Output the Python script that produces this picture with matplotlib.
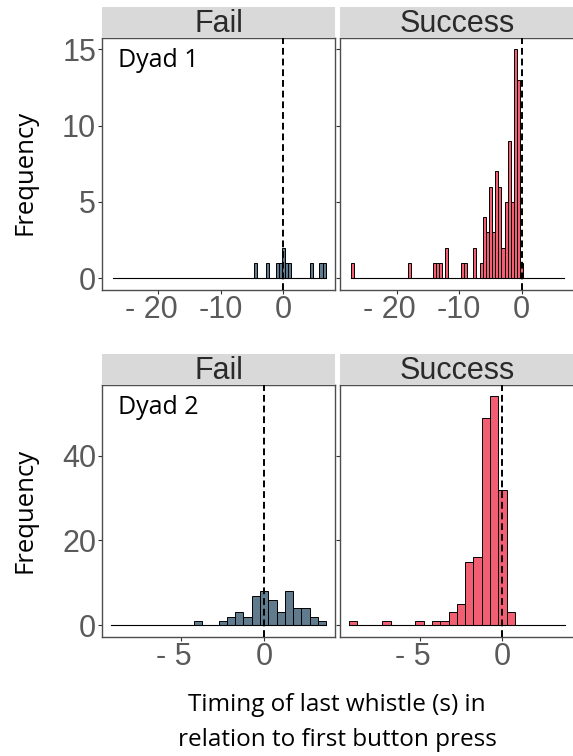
import numpy as np
import matplotlib
matplotlib.use("Agg")
import matplotlib.pyplot as plt
import matplotlib.transforms as mtrans

# bin width of the histograms (s)
bin_width = 0.5

# Dyad 1: bins run from -27.25 to 6.75
d1_range = [-27.25, 6.75]
d1_fail_x = [-4.5, -2.5, -1, -0.5, 0, 0.5, 1, 4.5, 6, 6.5]
d1_fail_n = [1, 1, 1, 1, 2, 1, 1, 1, 1, 1]
d1_succ_x = [-27, -18, -14, -13.5, -13, -12, -9.5, -9, -7.5, -6.5, -6, -5.5,
             -5, -4.5, -4, -3.5, -3, -2.5, -2, -1.5, -1, -0.5, 0]
d1_succ_n = [1, 1, 1, 1, 1, 2, 1, 1, 2, 1, 4, 3, 6, 3, 7, 6, 2, 5, 9, 5, 15, 13, 1]

# Dyad 2: bins run from -9.25 to 3.75
d2_range = [-9.25, 3.75]
d2_fail_x = [-4, -2.5, -2, -1.5, -1, -0.5, 0, 0.5, 1, 1.5, 2, 2.5, 3, 3.5]
d2_fail_n = [1, 1, 2, 3, 2, 7, 8, 6, 3, 8, 4, 4, 2, 1]
d2_succ_x = [-9, -7, -5, -4, -3.5, -3, -2.5, -2, -1.5, -1, -0.5, 0, 0.5]
d2_succ_n = [1, 1, 1, 1, 1, 3, 5, 15, 16, 49, 54, 32, 3]

d1_xticks = [-20, -10, 0]
d1_xlabels = ["- 20", "-10", "0"]
d1_yticks = [0, 5, 10, 15]
d2_xticks = [-5, 0]
d2_xlabels = ["- 5", "0"]
d2_yticks = [0, 20, 40]

fail_col = "#5F7B8D"
succ_col = "#F25F72"
W, H = 573, 756
tick_font = "Liberation Sans"

fig = plt.figure(figsize=(W / 100, H / 100), dpi=100)


def px_axes(x0, y0, x1, y1):
    return fig.add_axes([x0 / W, 1 - y1 / H, (x1 - x0) / W, (y1 - y0) / H])


def panel(x0, y0, y1, title, xs, ns, rng, col, xlim, ylim, xt, xl, yt, show_y):
    ax = px_axes(x0, y0, x0 + 233.7, y1)
    ax.bar(xs, ns, width=bin_width, color=col, edgecolor="black", linewidth=0.7, zorder=2)
    ax.plot(rng, [0, 0], color="black", lw=0.8, zorder=2)
    ax.axvline(0, color="black", lw=1.4, ls=(0, (3.5, 2)), zorder=3)
    ax.set_xlim(xlim)
    ax.set_ylim(ylim)
    ax.set_xticks(xt)
    ax.set_xticklabels(xl)
    ax.set_yticks(yt)
    if not show_y:
        ax.set_yticklabels([])
        ax.tick_params(axis="y", length=0)
    for s in ax.spines.values():
        s.set_color("#4D4D4D")
        s.set_linewidth(1.0)
    ax.tick_params(length=3, width=0.8, color="#333333", labelsize=22,
                   labelcolor="#5a5a5a", pad=1.0)
    for lab in ax.get_xticklabels() + ax.get_yticklabels():
        lab.set_fontfamily(tick_font)
    # labels written as "- n" sit a little left of their ticks
    shift = mtrans.ScaledTranslation(-7 / 100, 0, fig.dpi_scale_trans)
    for lab in ax.get_xticklabels():
        if lab.get_text().startswith("- "):
            lab.set_transform(lab.get_transform() + shift)
    # strip
    st = px_axes(x0, y0 - 31, x0 + 233.7, y0)
    st.set_facecolor("#D9D9D9")
    st.set_xticks([])
    st.set_yticks([])
    for s in st.spines.values():
        s.set_visible(False)
    st.text(0.5, 0.45, title, ha="center", va="center", fontsize=22,
            color="#2a2a2a", family=tick_font, transform=st.transAxes)
    return ax


a1 = panel(101.7, 38, 289.5, "Fail", d1_fail_x, d1_fail_n, d1_range, fail_col,
           [-29.05, 8.3], [-0.75, 15.75], d1_xticks, d1_xlabels, d1_yticks, True)
a2 = panel(340, 38, 289.5, "Success", d1_succ_x, d1_succ_n, d1_range, succ_col,
           [-29.05, 8.3], [-0.75, 15.75], d1_xticks, d1_xlabels, d1_yticks, False)
a3 = panel(101.7, 385, 636.6, "Fail", d2_fail_x, d2_fail_n, d2_range, fail_col,
           [-9.8, 4.3], [-2.7, 56.7], d2_xticks, d2_xlabels, d2_yticks, True)
a4 = panel(340, 385, 636.6, "Success", d2_succ_x, d2_succ_n, d2_range, succ_col,
           [-9.8, 4.3], [-2.7, 56.7], d2_xticks, d2_xlabels, d2_yticks, False)

fnt = "Open Sans"
fig.text(118 / W, 1 - 67 / H, "Dyad 1", fontsize=18, family=fnt, color="black", va="baseline")
fig.text(118 / W, 1 - 414 / H, "Dyad 2", fontsize=18, family=fnt, color="black", va="baseline")
fig.text(25 / W, 1 - 172 / H, "Frequency", fontsize=18.5, family=fnt, rotation=90,
         ha="center", va="center")
fig.text(25 / W, 1 - 510 / H, "Frequency", fontsize=18.5, family=fnt, rotation=90,
         ha="center", va="center")
fig.text(337 / W, 1 - 705 / H, "Timing of last whistle (s) in", fontsize=17.5, family=fnt,
         ha="center", va="center")
fig.text(337 / W, 1 - 740 / H, "relation to first button press", fontsize=17.5, family=fnt,
         ha="center", va="center")

fig.savefig("out.png", dpi=100)
